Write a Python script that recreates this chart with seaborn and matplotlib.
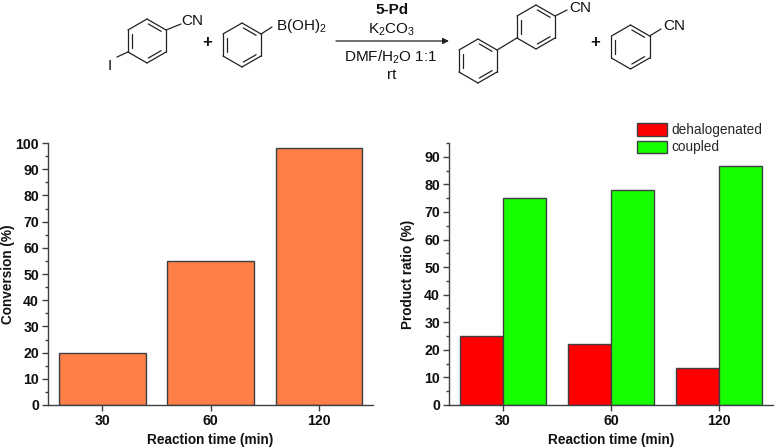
import numpy as np
import pandas as pd
import seaborn as sns
import matplotlib.pyplot as plt

times = ['30', '60', '120']
conversion = [20, 55, 98]
dehalogenated = [25, 22, 13.3]
coupled = [75, 78, 86.7]
series_names = ['dehalogenated', 'coupled']

sns.set_theme(style='ticks')
plt.rcParams['font.family'] = ['Liberation Sans', 'DejaVu Sans']
plt.rcParams['mathtext.fontset'] = 'custom'
plt.rcParams['mathtext.rm'] = 'Liberation Sans'

W, H = 776, 448
fig = plt.figure(figsize=(W / 100, H / 100), dpi=100)
edge = '#3c3f44'


def make_axes(x0, x1, y0, y1):
    return fig.add_axes([x0 / W, 1 - y1 / H, (x1 - x0) / W, (y1 - y0) / H])


def style_axes(ax, ylabel, ymax, label_x):
    ax.set_xlim(-0.5, 2.5)
    ax.set_ylim(0, ymax)
    ax.set_yticks(np.arange(0, ymax + 1, 10))
    ax.set_yticks(np.arange(5, ymax + 1, 10), minor=True)
    ax.tick_params(axis='both', which='major', length=4, width=1, color=edge, labelsize=10.2, pad=2.5)
    ax.tick_params(axis='y', which='minor', length=2.2, width=1, color=edge)
    for label in ax.get_xticklabels() + ax.get_yticklabels():
        label.set_fontweight('bold')
        label.set_color('#111111')
    ax.set_xlabel('Reaction time (min)', fontsize=9.8, fontweight='bold', color='#111111', labelpad=3.5)
    ax.set_ylabel(ylabel, fontsize=9.8, fontweight='bold', color='#111111')
    ax.yaxis.set_label_coords(label_x, 0.5)
    sns.despine(ax=ax)
    for side in ['left', 'bottom']:
        ax.spines[side].set_color(edge)
        ax.spines[side].set_linewidth(1)


# left panel
ax1 = make_axes(48, 373, 143, 405)
left_df = pd.DataFrame({'time': times, 'conversion': conversion})
sns.barplot(data=left_df, x='time', y='conversion', color='#ff7f47', saturation=1, width=0.8,
            edgecolor=edge, linewidth=1, ax=ax1)
style_axes(ax1, 'Conversion (%)', 100, -0.1)

# right panel
ax2 = make_axes(449, 773, 143, 405)
right_df = pd.DataFrame({
    'time': times * 2,
    'series': [series_names[0]] * 3 + [series_names[1]] * 3,
    'ratio': dehalogenated + coupled,
})
sns.barplot(data=right_df, x='time', y='ratio', hue='series', palette=['#ff0000', '#18ff00'], saturation=1,
            width=0.8, edgecolor=edge, linewidth=1, ax=ax2)
style_axes(ax2, 'Product ratio (%)', 95, -0.105)
ax2.legend(loc='upper left', bbox_to_anchor=(0.58, 1.076), frameon=False, fontsize=9.8, handlelength=2.2,
           handleheight=1.05, handletextpad=0.3, labelspacing=0.25, borderaxespad=0, borderpad=0)

# reaction scheme, drawn in pixel coordinates
scheme = fig.add_axes([0, 0, 1, 1], facecolor='none')
scheme.set_xlim(0, W)
scheme.set_ylim(H, 0)
scheme.axis('off')
ink = '#222222'


def bond(p, q, lw=0.9):
    scheme.plot([p[0], q[0]], [p[1], q[1]], color=ink, lw=lw, solid_capstyle='round')


def benzene(cx, cy, r=22, doubles=(0, 2, 4)):
    angles = np.radians(np.arange(-90, 270, 60))
    pts = np.c_[cx + r * np.cos(angles), cy + r * np.sin(angles)]
    for i in range(6):
        a, b = pts[i], pts[(i + 1) % 6]
        bond(a, b)
        if i in doubles:
            c = np.array([cx, cy])
            bond(a + (c - a) * 0.19 + (b - a) * 0.07, b + (c - b) * 0.19 + (a - b) * 0.07)
    return pts


def label(x, y, s, size=11, **kw):
    scheme.text(x, y, s, fontsize=size, color='#111111', ha=kw.pop('ha', 'left'), va='center', **kw)


# pts index: 0 top, 1 upper right, 2 lower right, 3 bottom, 4 lower left, 5 upper left
r1 = benzene(147, 41)
bond(r1[1], (181, 24))
label(181, 21, 'CN')
bond(r1[4], (117, 57))
label(108, 66, 'I')
label(207, 42, '+', size=12, fontweight='bold', ha='center')

r2 = benzene(242, 45)
bond(r2[1], (272, 27))
label(276, 26, 'B(OH)$_2$')

scheme.annotate('', xy=(449, 41), xytext=(336, 41),
                arrowprops=dict(arrowstyle='-|>', color=ink, lw=0.9, mutation_scale=9, shrinkA=0, shrinkB=0))
label(392, 10, '5-Pd', fontweight='bold', ha='center')
label(392, 30, 'K$_2$CO$_3$', ha='center')
label(391, 57, 'DMF/H$_2$O 1:1', ha='center')
label(392, 75, 'rt', ha='center')

r3 = benzene(478, 61)
r4 = benzene(536, 27)
bond(r3[1], r4[4])
bond(r4[1], (567, 10))
label(569, 8, 'CN')
label(595, 42, '+', size=12, fontweight='bold', ha='center')

r5 = benzene(630.5, 47)
bond(r5[1], (661, 29))
label(663, 26, 'CN')

fig.savefig('out.png', dpi=100, facecolor='white')
